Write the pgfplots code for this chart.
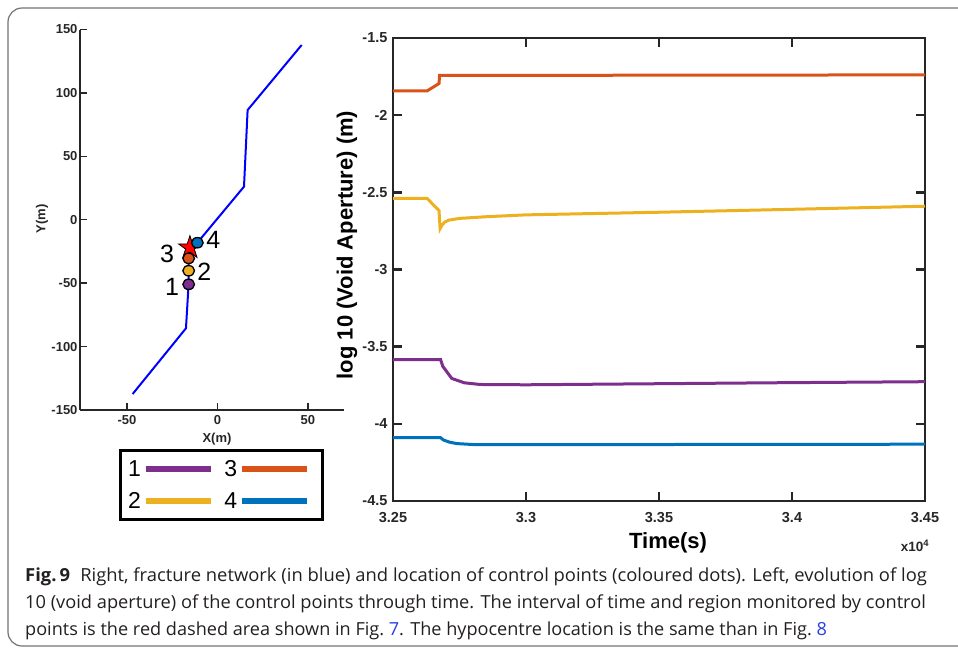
\documentclass[border=0pt]{standalone}
\usepackage{pgfplots}
\pgfplotsset{compat=1.18}
\usepackage{fontspec}
\setmainfont{Liberation Sans}
\newfontfamily\capfont{Open Sans}
\usepackage{graphicx}
\definecolor{c1}{RGB}{126,47,142}
\definecolor{c2}{RGB}{237,177,32}
\definecolor{c3}{RGB}{217,83,25}
\definecolor{c4}{RGB}{0,114,189}
\definecolor{capblue}{RGB}{40,60,230}
\definecolor{captext}{RGB}{35,31,32}
\definecolor{axc}{RGB}{38,38,38}

\pgfdeclareplotmark{pentastar}{%
 \pgfpathmoveto{\pgfpointpolar{90}{\pgfplotmarksize}}%
 \pgfpathlineto{\pgfpointpolar{126}{0.382\pgfplotmarksize}}%
 \pgfpathlineto{\pgfpointpolar{162}{\pgfplotmarksize}}%
 \pgfpathlineto{\pgfpointpolar{198}{0.382\pgfplotmarksize}}%
 \pgfpathlineto{\pgfpointpolar{234}{\pgfplotmarksize}}%
 \pgfpathlineto{\pgfpointpolar{270}{0.382\pgfplotmarksize}}%
 \pgfpathlineto{\pgfpointpolar{306}{\pgfplotmarksize}}%
 \pgfpathlineto{\pgfpointpolar{342}{0.382\pgfplotmarksize}}%
 \pgfpathlineto{\pgfpointpolar{18}{\pgfplotmarksize}}%
 \pgfpathlineto{\pgfpointpolar{54}{0.382\pgfplotmarksize}}%
 \pgfpathclose
 \pgfusepathqfillstroke}

\begin{document}
\begin{tikzpicture}
\useasboundingbox (0pt,0pt) rectangle (958pt,649pt);
\draw[black!55, line width=1.2pt, rounded corners=14pt] (8pt,3pt) rectangle (1000pt,641pt);

% ---------------- left plot: fracture network ----------------
\begin{axis}[
  at={(80pt,239pt)}, anchor=south west, scale only axis,
  width=264pt, height=380.5pt,
  xmin=-76, xmax=70, ymin=-150, ymax=150,
  clip=false,
  axis x line*=bottom, axis y line*=left,
  axis line style={line width=1.4pt, axc, -},
  tick align=inside, major tick length=7pt,
  tick style={line width=1.4pt, axc},
  xtick={-50,0,50}, xticklabels={-50,0,50},
  ytick={-150,-100,-50,0,50,100,150},
  yticklabels={-150,-100,-50,0,50,100,150},
  tick label style={font=\fontsize{13}{13}\selectfont\bfseries, text=axc},
  xticklabel style={yshift=-2pt},
  yticklabel style={xshift=1pt},
  xlabel={X(m)}, ylabel={Y(m)},
  label style={font=\fontsize{13}{13}\selectfont\bfseries, text=axc},
  xlabel style={at={(axis description cs:0.519,-0.076)}, anchor=center},
  ylabel style={at={(axis description cs:-0.144,0.502)}, anchor=center},
  legend columns=2,
  legend plot pos=right,
  legend image code/.code={\draw[#1, line width=5.5pt] (0pt,0pt) -- (65pt,0pt); \path (73pt,0pt);},
  legend style={at={(axis description cs:0.146,-0.103)}, anchor=north west,
    draw=black, line width=3.3pt, fill=white,
    font=\fontsize{23}{23}\selectfont\mdseries,
    inner xsep=6pt, inner ysep=7.5pt,
    nodes={inner sep=2pt},
    /tikz/every odd column/.append style={column sep=0pt},
    /tikz/every even column/.append style={column sep=2pt},
    row sep=10.5pt},
]
\addplot[forget plot, color={rgb,255:red,0;green,0;blue,255}, line width=2pt] coordinates {
  (-46.9,-137.4) (-17.4,-85.6) (-15.9,-50) (-15.9,-30) (-11.1,-18.1)
  (14.7,26.1) (16.7,86.5) (46.6,137.8)};
\addplot[forget plot, only marks, mark=pentastar, mark size=12pt,
  mark options={fill=red, draw=black, line width=0.8pt}] coordinates {(-15.2,-22)};
\addplot[forget plot, only marks, mark=*, mark size=5.2pt,
  mark options={fill=c1, draw=black, line width=1.3pt, xscale=1.12}] coordinates {(-15.9,-50.9)};
\addplot[forget plot, only marks, mark=*, mark size=5.2pt,
  mark options={fill=c2, draw=black, line width=1.3pt, xscale=1.12}] coordinates {(-15.9,-40.2)};
\addplot[forget plot, only marks, mark=*, mark size=5.2pt,
  mark options={fill=c3, draw=black, line width=1.3pt, xscale=1.12}] coordinates {(-15.9,-30.4)};
\addplot[forget plot, only marks, mark=*, mark size=5.2pt,
  mark options={fill=c4, draw=black, line width=1.3pt, xscale=1.12}] coordinates {(-11.1,-18.1)};
\node[font=\fontsize{25}{25}\selectfont] at (axis cs:-25.1,-53.0) {1};
\node[font=\fontsize{25}{25}\selectfont] at (axis cs:-7.2,-41.2) {2};
\node[font=\fontsize{25}{25}\selectfont] at (axis cs:-27.9,-27.0) {3};
\node[font=\fontsize{25}{25}\selectfont] at (axis cs:-2.2,-16.0) {4};
\addlegendimage{c1}\addlegendentry{1}
\addlegendimage{c3}\addlegendentry{3}
\addlegendimage{c2}\addlegendentry{2}
\addlegendimage{c4}\addlegendentry{4}
\end{axis}

% ---------------- right plot: log10 void aperture ----------------
\begin{axis}[
  at={(393pt,148pt)}, anchor=south west, scale only axis,
  width=532pt, height=463pt,
  xmin=32500, xmax=34500, ymin=-4.5, ymax=-1.5,
  clip=false,
  axis line style={line width=2.6pt, axc},
  tick align=inside, major tick length=9pt,
  tick style={line width=2.6pt, axc},
  xtick={32500,33000,33500,34000,34500},
  xticklabels={3.25,3.3,3.35,3.4,3.45},
  ytick={-4.5,-4,-3.5,-3,-2.5,-2,-1.5},
  yticklabels={-4.5,-4,-3.5,-3,-2.5,-2,-1.5},
  scaled x ticks=false,
  tick label style={font=\fontsize{14.5}{14.5}\selectfont\bfseries, text=axc},
  xticklabel style={yshift=-8pt},
  yticklabel style={xshift=-2pt},
  xlabel={Time(s)}, ylabel={log 10 (Void Aperture) (m)},
  label style={font=\fontsize{22}{22}\selectfont\bfseries, text=black},
  xlabel style={at={(axis description cs:0.517,-0.0907)}, anchor=center},
  ylabel style={at={(axis description cs:-0.0865,0.553)}, anchor=center},
]
\addplot[c1, line width=3pt] coordinates {
  (32500,-3.584) (32679,-3.584) (32687,-3.627) (32721,-3.706) (32768,-3.734)
  (32827,-3.745) (33000,-3.747) (33500,-3.740) (34000,-3.733) (34500,-3.727)};
\addplot[c2, line width=3pt] coordinates {
  (32500,-2.539) (32628,-2.539) (32673,-2.618) (32677,-2.735) (32685,-2.71)
  (32695,-2.692) (32710,-2.680) (32750,-2.669) (32850,-2.658) (33000,-2.646)
  (33500,-2.629) (34000,-2.610) (34500,-2.590)};
\addplot[c3, line width=3pt] coordinates {
  (32500,-1.843) (32628,-1.843) (32673,-1.795) (32675,-1.742) (33000,-1.742)
  (34500,-1.739)};
\addplot[c4, line width=3pt] coordinates {
  (32500,-4.090) (32679,-4.090) (32690,-4.105) (32711,-4.118) (32740,-4.128)
  (32800,-4.134) (33000,-4.135) (34500,-4.132)};
\node[font=\fontsize{13.5}{13.5}\selectfont\bfseries, text=axc] at (axis description cs:0.981,-0.097) {x10\textsuperscript{4}};
\end{axis}

% ---------------- caption ----------------
\node[anchor=base west, inner sep=0pt, text=captext] at (25pt,68pt)
 {\resizebox{901.7pt}{\height}{\capfont\fontsize{18}{18}\selectfont\textbf{Fig.\,9}\hspace{0.55em}Right, fracture network (in blue) and location of control points (coloured dots). Left, evolution of log}};
\node[anchor=base west, inner sep=0pt, text=captext] at (25pt,41pt)
 {\resizebox{900.7pt}{\height}{\capfont\fontsize{18}{18}\selectfont 10 (void aperture) of the control points through time. The interval of time and region monitored by control}};
\node[anchor=base west, inner sep=0pt, text=captext] at (25pt,14pt)
 {\resizebox{801.7pt}{\height}{\capfont\fontsize{18}{18}\selectfont points is the red dashed area shown in Fig.~\textcolor{capblue}{7}. The hypocentre location is the same than in Fig.~\textcolor{capblue}{8}}};
\end{tikzpicture}
\end{document}
